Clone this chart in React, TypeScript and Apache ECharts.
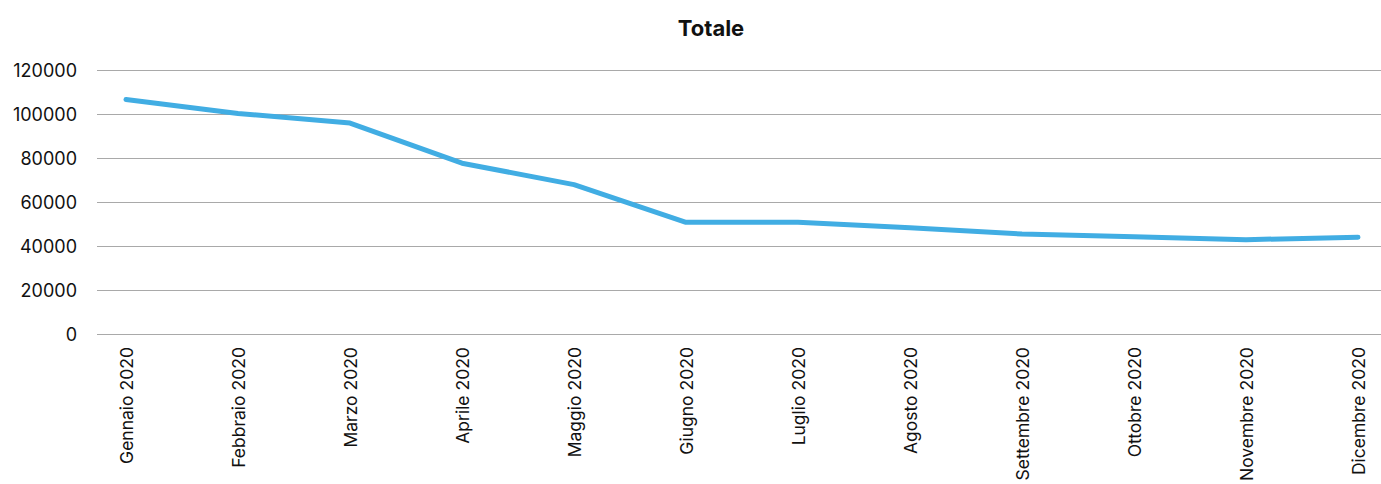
import React, { useEffect, useRef } from "react";
import * as echarts from "echarts";

const months = [
  "Gennaio 2020",
  "Febbraio 2020",
  "Marzo 2020",
  "Aprile 2020",
  "Maggio 2020",
  "Giugno 2020",
  "Luglio 2020",
  "Agosto 2020",
  "Settembre 2020",
  "Ottobre 2020",
  "Novembre 2020",
  "Dicembre 2020",
];

const totale = [106500, 100200, 95800, 77500, 67700, 50500, 50500, 48000, 45200, 43900, 42600, 43700];

const yMin = 0;
const yMax = 120000;
const yInterval = 20000;

export default function App() {
  const ref = useRef<HTMLDivElement>(null);

  useEffect(() => {
    if (!ref.current) return;
    const chart = echarts.init(ref.current, null, { renderer: "svg" });
    chart.setOption({
      animation: false,
      backgroundColor: "#ffffff",
      title: {
        text: "Totale",
        left: 706,
        top: 12,
        textAlign: "center",
        textStyle: {
          fontFamily: "Inter",
          fontWeight: "bold",
          fontSize: 22,
          color: "#111111",
        },
      },
      grid: [
        { left: 97, right: 0, top: 70, height: 264 },
        { left: 126, right: 23, top: 70, height: 264 },
      ],
      xAxis: [
        {
          gridIndex: 0,
          type: "category",
          data: months,
          show: false,
        },
        {
          gridIndex: 1,
          type: "category",
          data: months,
          boundaryGap: false,
          axisLine: { show: false },
          axisTick: { show: false },
          splitLine: { show: false },
          axisLabel: {
            rotate: 90,
            interval: 0,
            margin: 14,
            fontFamily: "Inter",
            fontSize: 17.5,
            color: "#111111",
          },
        },
      ],
      yAxis: [
        {
          gridIndex: 0,
          type: "value",
          min: yMin,
          max: yMax,
          interval: yInterval,
          axisLine: { show: false },
          axisTick: { show: false },
          axisLabel: {
            margin: 20,
            fontFamily: "Inter",
            fontSize: 18,
            color: "#111111",
            formatter: (v: number) => String(v),
          },
          splitLine: { lineStyle: { color: "#a9a9a9", width: 1 } },
        },
        {
          gridIndex: 1,
          type: "value",
          min: yMin,
          max: yMax,
          interval: yInterval,
          show: false,
          splitLine: { show: false },
        },
      ],
      series: [
        {
          type: "line",
          name: "Totale",
          xAxisIndex: 1,
          yAxisIndex: 1,
          data: totale,
          showSymbol: false,
          symbol: "none",
          clip: false,
          lineStyle: { color: "#41ade3", width: 5, cap: "round", join: "round" },
        },
      ],
    });
    return () => chart.dispose();
  }, []);

  return (
    <div
      ref={ref}
      style={{ position: "fixed", left: 0, top: 0, width: 1381, height: 484 }}
    />
  );
}
